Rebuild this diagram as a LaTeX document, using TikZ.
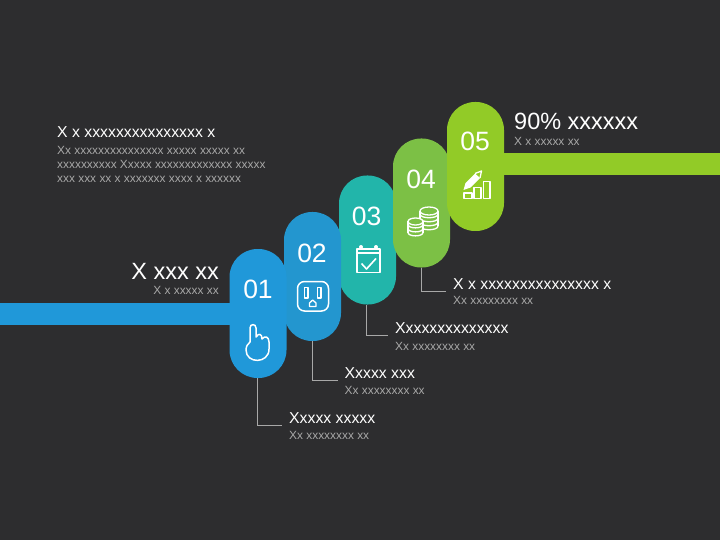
\documentclass[tikz,border=0pt]{standalone}
\usepackage{fontspec}
\setmainfont{Liberation Sans}
\definecolor{bgdark}{HTML}{2D2D2F}
\definecolor{stepa}{HTML}{2098D9}
\definecolor{stepb}{HTML}{2396CF}
\definecolor{stepc}{HTML}{22B5AA}
\definecolor{stepd}{HTML}{7CC045}
\definecolor{stepe}{HTML}{92CB27}
\definecolor{leadgray}{HTML}{A8A8A8}
\tikzset{
  pill/.style={rectangle,rounded corners=28pt,minimum width=57pt,minimum height=129pt,inner sep=0pt},
  num/.style={text=white,font=\fontsize{26.5}{28}\selectfont,inner sep=0pt},
  title/.style={anchor=base west,text=white,font=\fontsize{15.8}{18}\selectfont,inner xsep=7pt,inner ysep=2pt},
  sub/.style={anchor=base west,text=leadgray,font=\fontsize{11.9}{14}\selectfont,inner sep=0pt},
  leader/.style={draw=leadgray,line width=0.8pt},
  icon/.style={draw=white,line width=1.3pt,line join=round}
}
\begin{document}
\begin{tikzpicture}[x=1pt,y=-1pt]
  \fill[bgdark] (0,0) rectangle (720,540);
  \useasboundingbox (0,0) rectangle (720,540);
  \fill[stepa] (0,303) rectangle (235,325);
  \fill[stepe] (495,153) rectangle (720,175);
  % pills, back to front
  \node[pill,fill=stepc] (pillc) at (367.5,240) {};
  \node[pill,fill=stepd] (pilld) at (421.5,203) {};
  \node[pill,fill=stepe] (pille) at (475.5,166.5) {};
  \node[pill,fill=stepb] (pillb) at (312.5,276.5) {};
  \node[pill,fill=stepa] (pilla) at (258,313.5) {};
  \node[num] at (258,289) {01};
  \node[num] at (312,253) {02};
  \node[num] at (366.5,216) {03};
  \node[num] at (421,179) {04};
  \node[num] at (475,141.5) {05};
  % hand
  \draw[icon,line width=1.5pt] (250,342) -- (250,328) .. controls (250,323.5) and (256,323.5) .. (256,328) -- (256,337)
    .. controls (259,332.5) and (262,334) .. (262,339) .. controls (265,335) and (269,337) .. (269,342) -- (269,349)
    .. controls (269,364) and (246,364) .. (246,350) .. controls (246,346) and (248,344) .. (250,342);
  % outlet
  \draw[icon,line width=1.5pt,rounded corners=7pt] (297.5,281.5) rectangle (328.5,311);
  \draw[icon] (304.5,287.5) rectangle (308,298);
  \draw[icon] (317.5,287.5) rectangle (321,298);
  \draw[icon] (309.5,306.5) -- (309.5,303) -- (312.7,300) -- (316,303) -- (316,306.5) -- cycle;
  % calendar
  \draw[icon] (357,249) rectangle (380,272.5);
  \draw[icon] (357,253) -- (380,253);
  \fill[white] (361,247) circle (2pt) (376,247) circle (2pt);
  \draw[icon,line width=1.6pt] (361.5,263.5) -- (366.5,269) -- (376,258.5);
  % coins
  \foreach \y in {214,218,222,226}
    \draw[icon] (420,\y) .. controls (420,\y+5) and (438,\y+5) .. (438,\y);
  \draw[icon] (420,211) -- (420,226) (438,211) -- (438,226);
  \draw[icon] (429,211) ellipse (9pt and 4pt);
  \fill[stepd] (407.5,221.5) rectangle (423.5,233) (415.5,221.5) ellipse (8pt and 3.5pt);
  \foreach \y in {224.5,228.5,232.5}
    \draw[icon] (408,\y) .. controls (408,\y+4.5) and (423,\y+4.5) .. (423,\y);
  \draw[icon] (408,221.5) -- (408,232.5) (423,221.5) -- (423,232.5);
  \draw[icon] (415.5,221.5) ellipse (7.5pt and 3.5pt);
  % chart
  \draw[icon] (464,193) rectangle (472,198.5);
  \draw[icon] (474,187.5) rectangle (481,198.5);
  \draw[icon] (483.5,181.5) rectangle (490,198.5);
  \fill[white] (463.5,190) -- (465.5,183) -- (475,173.5) -- (480,178) -- (470.5,187.5) -- cycle;
  \draw[icon] (475,173.5) -- (481.5,171) -- (480,178);
  % labels
  \node[title] (laba) at (282,423) {Xxxxx xxxxx};
  \node[sub] at (289,439.5) {Xx xxxxxxxx xx};
  \node[title] (labb) at (337.5,378) {Xxxxx xxx};
  \node[sub] at (344.5,394.5) {Xx xxxxxxxx xx};
  \node[title] (labc) at (388,333) {Xxxxxxxxxxxxxx};
  \node[sub] at (395,350.5) {Xx xxxxxxxx xx};
  \node[title] (labd) at (446,289) {X x xxxxxxxxxxxxxxx x};
  \node[sub] at (453,304.5) {Xx xxxxxxxx xx};
  \draw[leader] (pilla.south) ++(-0.7,0) |- (laba.south west);
  \draw[leader] (pillb.south) |- (labb.south west);
  \draw[leader] (pillc.south) ++(-1,0) |- (labc.south west);
  \draw[leader] (pilld.south) |- (labd.south west);
  \node[anchor=base west,text=white,font=\fontsize{15.8}{18}\selectfont,inner sep=0pt] at (57,138) {X x xxxxxxxxxxxxxxx x};
  \node[sub] at (57,155) {Xx xxxxxxxxxxxxxxx xxxxx xxxxx xx};
  \node[sub] at (57,169) {xxxxxxxxxx Xxxxx xxxxxxxxxxxxx xxxxx};
  \node[sub] at (57,183) {xxx xxx xx x xxxxxxx xxxx x xxxxxx};
  \node[anchor=base east,text=white,font=\fontsize{23.5}{26}\selectfont,inner sep=0pt] at (219,279) {X xxx xx};
  \node[anchor=base east,text=leadgray,font=\fontsize{11.9}{14}\selectfont,inner sep=0pt] at (219,294) {X x xxxxx xx};
  \node[anchor=base west,text=white,font=\fontsize{23.5}{26}\selectfont,inner sep=0pt] at (514,130) {90\% xxxxxx};
  \node[sub] at (514,145.5) {X x xxxxx xx};
\end{tikzpicture}
\end{document}
